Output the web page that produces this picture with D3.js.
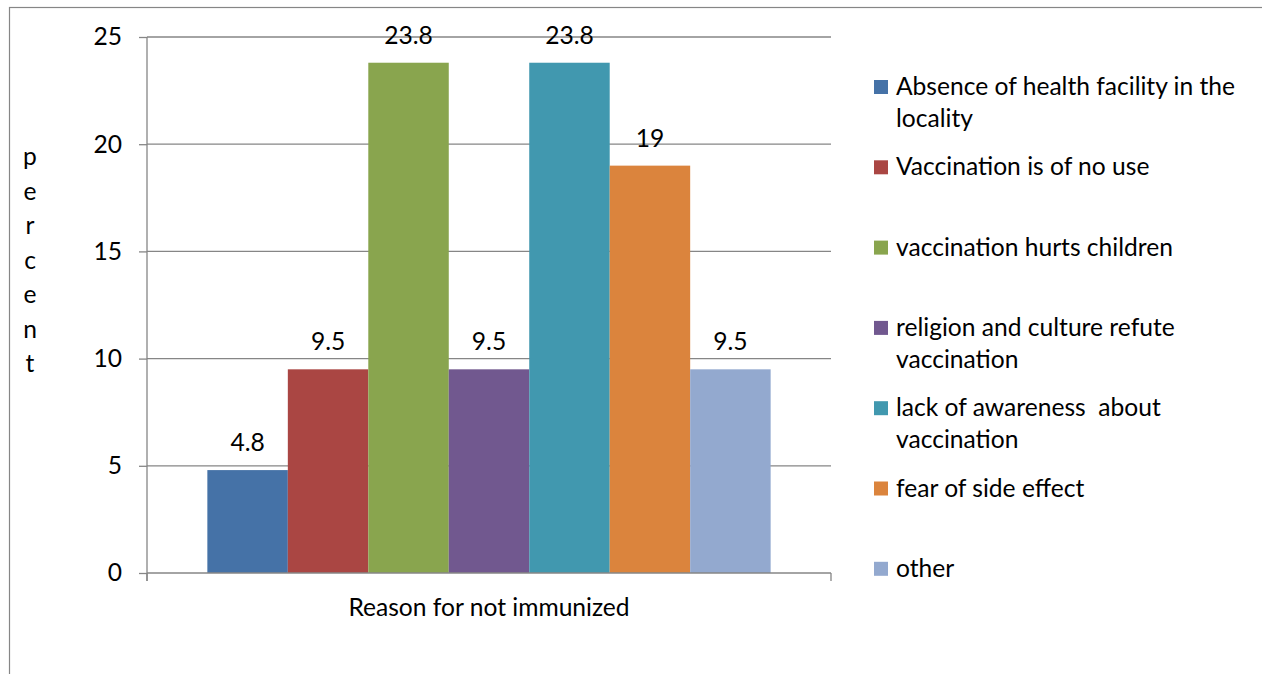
<!DOCTYPE html>
<html>
<head>
<meta charset="utf-8">
<script src="https://cdn.jsdelivr.net/npm/d3@7/dist/d3.min.js"></script>
<style>
  html, body { margin: 0; padding: 0; background: #fff; }
  svg { display: block; font-family: Lato, "Open Sans", sans-serif; }
</style>
</head>
<body>
<svg id="chart" width="1262" height="674"></svg>
<script>
// Reasons for not immunizing (one category, seven series)
const categoryLabel = "Reason for not immunized";
const seriesNames = [
  ["Absence of health facility in the", "locality"],
  ["Vaccination is of no use"],
  ["vaccination hurts children"],
  ["religion and culture refute", "vaccination"],
  ["lack of awareness  about", "vaccination"],
  ["fear of side effect"],
  ["other"]
];
const seriesValues = [4.8, 9.5, 23.8, 9.5, 23.8, 19, 9.5];
const seriesColors = ["#4572A7", "#AA4643", "#89A54E", "#71588F", "#4198AF", "#DB843D", "#93A9CF"];
const yTicks = [0, 5, 10, 15, 20, 25];
const yTitle = "percent";

const svg = d3.select("#chart");
const plot = { left: 147, right: 831, top: 37, bottom: 573 };
const gridColor = "#868686";
const fontSize = 24.6;

// outer chart frame
svg.append("rect")
  .attr("x", 9.5).attr("y", 7.5)
  .attr("width", 1300).attr("height", 700)
  .attr("fill", "none").attr("stroke", gridColor).attr("stroke-width", 1.2);

const y = d3.scaleLinear().domain([0, 25]).range([plot.bottom, plot.top]);

// category band with 150% gap around the cluster
const x0 = d3.scaleBand().domain([categoryLabel]).range([plot.left, plot.right]).paddingInner(0).paddingOuter(0);
const gap = 1.5;
const n = seriesValues.length;
const barW = x0.bandwidth() / (n + gap);
const clusterStart = x0(categoryLabel) + barW * gap / 2;
const x1 = d3.scaleBand().domain(d3.range(n)).range([clusterStart, clusterStart + barW * n]).padding(0);

// horizontal gridlines
svg.append("g")
  .selectAll("line").data(yTicks.filter(t => t > 0)).join("line")
  .attr("x1", plot.left).attr("x2", plot.right)
  .attr("y1", d => y(d)).attr("y2", d => y(d))
  .attr("stroke", gridColor).attr("stroke-width", 1.3);

// y axis
const yAxis = d3.axisLeft(y).tickValues(yTicks).tickSize(8).tickPadding(17).tickFormat(d3.format("d"));
const yg = svg.append("g").attr("transform", `translate(${plot.left},0)`).call(yAxis);
yg.select(".domain").attr("stroke", gridColor).attr("stroke-width", 1.3).attr("d", `M0,${plot.top}V${plot.bottom + 8}`);
yg.selectAll(".tick line").attr("stroke", gridColor).attr("stroke-width", 1.3);
yg.selectAll(".tick text").attr("font-size", fontSize).attr("fill", "#000").attr("font-family", "Lato, sans-serif");

// bars
svg.append("g")
  .selectAll("rect").data(seriesValues).join("rect")
  .attr("x", (d, i) => x1(i))
  .attr("width", x1.bandwidth())
  .attr("y", d => y(d))
  .attr("height", d => y(0) - y(d))
  .attr("fill", (d, i) => seriesColors[i]);

// x axis baseline with boundary ticks
const xg = svg.append("g").attr("transform", `translate(0,${plot.bottom})`);
xg.append("path")
  .attr("d", `M${plot.left},0H${plot.right}M${plot.left},0V8M${plot.right},0V8`)
  .attr("fill", "none").attr("stroke", gridColor).attr("stroke-width", 1.3);

// value labels
svg.append("g")
  .selectAll("text").data(seriesValues).join("text")
  .attr("x", (d, i) => x1(i) + x1.bandwidth() / 2)
  .attr("y", d => y(d) - 19)
  .attr("text-anchor", "middle")
  .attr("font-size", fontSize)
  .text(d => d);

// category label
svg.append("text")
  .attr("x", (plot.left + plot.right) / 2)
  .attr("y", 616)
  .attr("text-anchor", "middle")
  .attr("font-size", fontSize)
  .text(categoryLabel);

// y axis title, letters stacked vertically
svg.append("g")
  .selectAll("text").data(yTitle.split("")).join("text")
  .attr("x", 30)
  .attr("y", (d, i) => 165 + i * 34.5)
  .attr("text-anchor", "middle")
  .attr("font-size", fontSize)
  .text(d => d);

// legend
const legend = svg.append("g").attr("transform", "translate(874,0)");
const items = legend.selectAll("g").data(seriesNames).join("g")
  .attr("transform", (d, i) => `translate(0,${87 + i * 80.3})`);
items.append("rect")
  .attr("x", 0).attr("y", -7).attr("width", 14).attr("height", 14)
  .attr("fill", (d, i) => seriesColors[i]);
items.each(function(lines) {
  const t = d3.select(this).append("text")
    .attr("x", 22).attr("y", 8)
    .attr("font-size", fontSize)
    .attr("xml:space", "preserve");
  lines.forEach((ln, j) => {
    t.append("tspan").attr("x", 22).attr("y", 8 + j * 32).text(ln);
  });
});
</script>
</body>
</html>
